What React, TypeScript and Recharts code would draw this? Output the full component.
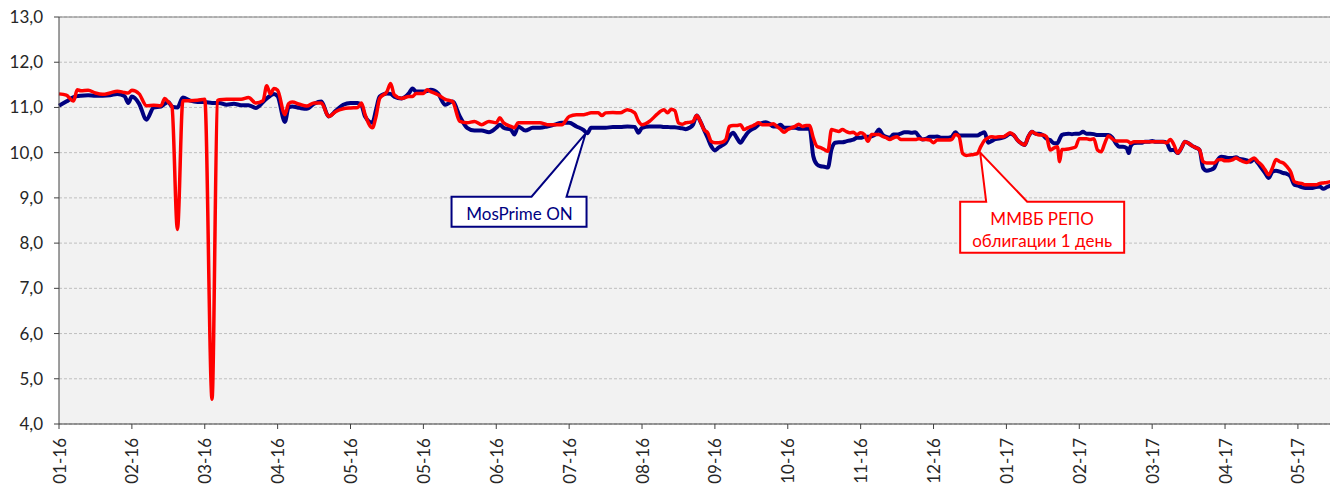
import { LineChart, Line, XAxis, YAxis, CartesianGrid, ReferenceLine, ReferenceDot } from "recharts";

// position along the date axis, 20 steps between two labelled ticks
const dayIdx = [
  0, 2, 4, 5, 6, 8, 10, 12, 14, 16,
  18, 19, 20, 22, 24, 26, 28, 29, 30, 31,
  32.5, 34, 36, 38, 40, 42, 43.5, 44, 46, 48,
  50, 52, 54, 56, 57, 58, 59, 60, 62, 63,
  64, 66, 68, 70, 72, 74, 76,
  78, 80, 82, 83, 84, 86, 87, 88, 90, 91,
  92, 94, 96, 97, 98, 100, 101, 102, 104, 106,
  108, 110, 112, 114, 116, 118, 120, 121, 122, 124,
  125, 126, 128, 130, 132, 134, 136, 138, 140, 142,
  144, 145, 146, 148, 149, 150, 152, 154, 156, 158,
  159, 160, 162, 164,
  165, 166, 167, 168, 169, 170, 171, 172, 173, 174,
  175, 176, 177, 178, 179, 180, 181, 182, 183, 184,
  185, 186, 187, 188, 189, 190, 191, 192, 193, 194,
  195, 196, 197, 198, 199, 200, 201, 202, 203, 204,
  205, 206, 207, 208, 209, 210, 211, 212, 213, 214,
  215, 216, 217, 218, 219, 220, 221, 222, 223, 224,
  225, 226, 227, 228, 229, 230, 231, 232, 233, 234,
  235, 236, 237, 238, 239, 240, 241, 242, 243, 244,
  245, 246, 247, 248, 249, 250, 251, 252, 253, 254,
  255, 256, 257,
  258, 259, 260, 261, 262, 263, 264, 265, 266, 267,
  268, 269, 270, 271, 272, 273, 274, 274.6, 275.2,
  276, 277, 278, 279, 280, 281, 282, 283, 284, 285,
  286, 287, 288, 289, 290, 291, 292, 293, 293.6,
  294, 295, 296, 297, 298, 299, 300, 301, 302, 303,
  304, 305, 306, 307, 308, 309, 310, 311, 312, 313,
  314, 315, 316, 317, 318, 319, 320, 321, 322, 323,
  324, 325, 326, 327, 328, 329, 330, 331, 332, 333,
  334, 335, 336, 337, 338, 339, 340, 341, 342, 343,
  344, 345, 346, 347, 348, 349,
];

const mosPrime = [
  11.04, 11.13, 11.23, 11.25, 11.26, 11.27, 11.26, 11.26, 11.27, 11.3,
  11.25, 11.1, 11.24, 11.08, 10.73, 11.0, 11.02, 11.08, 11.12, 11.02,
  11.0, 11.22, 11.15, 11.12, 11.12, 11.1, 11.1, 11.1, 11.06, 11.08,
  11.05, 11.05, 10.99, 11.12, 11.2, 11.26, 11.3, 11.25, 10.68, 11.0,
  11.02, 10.99, 10.97, 11.08, 11.13, 10.8, 10.93,
  11.06, 11.1, 11.1, 11.05, 10.8, 10.66, 10.95, 11.24, 11.31, 11.3,
  11.24, 11.2, 11.31, 11.42, 11.35, 11.35, 11.36, 11.39, 11.31, 11.06,
  11.13, 10.8, 10.55, 10.49, 10.49, 10.45, 10.55, 10.62, 10.55, 10.51,
  10.4, 10.58, 10.49, 10.55, 10.55, 10.58, 10.62, 10.66, 10.66, 10.58,
  10.5, 10.43, 10.55, 10.55, 10.55, 10.55, 10.57, 10.57, 10.58, 10.57,
  10.44, 10.55, 10.58, 10.58,
  10.58, 10.57, 10.57, 10.56, 10.56, 10.55, 10.54, 10.52, 10.55, 10.62,
  10.82, 10.69, 10.51, 10.33, 10.14, 10.05, 10.11, 10.16, 10.22, 10.36,
  10.44, 10.33, 10.22, 10.33, 10.44, 10.51, 10.55, 10.62, 10.66, 10.67,
  10.64, 10.58, 10.58, 10.62, 10.55, 10.55, 10.55, 10.55, 10.53, 10.53,
  10.53, 10.53, 9.92, 9.74, 9.7, 9.69, 9.67, 10.07, 10.22, 10.23,
  10.23, 10.25, 10.27, 10.29, 10.33, 10.33, 10.35, 10.35, 10.36, 10.4,
  10.51, 10.4, 10.35, 10.33, 10.4, 10.4, 10.42, 10.45, 10.45, 10.44,
  10.45, 10.36, 10.29, 10.31, 10.35, 10.35, 10.36, 10.33, 10.33, 10.33,
  10.35, 10.45, 10.38, 10.38, 10.38, 10.38, 10.38, 10.38, 10.42, 10.45,
  10.22, 10.26, 10.3,
  10.31, 10.33, 10.37, 10.42, 10.39, 10.28, 10.21, 10.17, 10.35, 10.46,
  10.42, 10.42, 10.39, 10.31, 10.28, 10.21, 10.21, 10.3, 10.39,
  10.41, 10.42, 10.41, 10.42, 10.42, 10.46, 10.42, 10.42, 10.41, 10.39,
  10.39, 10.39, 10.39, 10.34, 10.21, 10.13, 10.13, 10.1, 9.99,
  10.13, 10.21, 10.22, 10.22, 10.24, 10.24, 10.26, 10.24, 10.24, 10.24,
  10.22, 10.06, 10.06, 9.99, 10.1, 10.24, 10.21, 10.15, 10.11, 10.06,
  9.66, 9.6, 9.62, 9.66, 9.84, 9.91, 9.9, 9.88, 9.88, 9.9,
  9.86, 9.85, 9.83, 9.8, 9.86, 9.77, 9.66, 9.55, 9.44, 9.58,
  9.6, 9.58, 9.55, 9.53, 9.47, 9.29, 9.27, 9.24, 9.22, 9.22,
  9.22, 9.24, 9.25, 9.2, 9.24, 9.27,
];

const repo = [
  11.3, 11.27, 11.14, 11.39, 11.37, 11.38, 11.32, 11.29, 11.32, 11.36,
  11.33, 11.32, 11.38, 11.3, 11.04, 11.05, 11.04, 11.2, 11.12, 11.02,
  8.3, 11.15, 11.15, 11.16, 11.18, 4.55, 11.15, 11.17, 11.18, 11.18,
  11.18, 11.22, 11.1, 11.15, 11.48, 11.3, 11.42, 11.38, 10.84, 11.08,
  11.12, 11.07, 11.03, 11.1, 11.1, 10.8, 10.91,
  10.97, 10.99, 11.0, 11.1, 10.84, 10.55, 10.8, 11.2, 11.35, 11.53,
  11.28, 11.2, 11.24, 11.24, 11.31, 11.31, 11.39, 11.35, 11.28, 11.18,
  11.13, 10.69, 10.66, 10.69, 10.62, 10.69, 10.66, 10.77, 10.66, 10.58,
  10.55, 10.66, 10.66, 10.66, 10.66, 10.62, 10.62, 10.62, 10.8, 10.84,
  10.84, 10.86, 10.88, 10.88, 10.82, 10.88, 10.89, 10.88, 10.95, 10.88,
  10.7, 10.62, 10.69, 10.84,
  10.91, 10.95, 10.88, 10.96, 10.93, 10.66, 10.63, 10.66, 10.67, 10.69,
  10.82, 10.69, 10.51, 10.44, 10.25, 10.22, 10.22, 10.23, 10.29, 10.58,
  10.6, 10.6, 10.62, 10.51, 10.55, 10.58, 10.62, 10.66, 10.62, 10.62,
  10.62, 10.64, 10.58, 10.52, 10.45, 10.51, 10.55, 10.58, 10.63, 10.58,
  10.6, 10.6, 10.33, 10.14, 10.11, 10.07, 10.03, 10.51, 10.49, 10.47,
  10.51, 10.47, 10.44, 10.45, 10.4, 10.44, 10.4, 10.25, 10.4, 10.4,
  10.4, 10.36, 10.33, 10.29, 10.33, 10.35, 10.29, 10.29, 10.29, 10.29,
  10.29, 10.31, 10.29, 10.29, 10.28, 10.22, 10.28, 10.28, 10.28, 10.28,
  10.29, 10.4, 10.36, 9.98, 9.94, 9.95, 9.96, 9.98, 10.14, 10.27,
  10.33, 10.35, 10.34,
  10.35, 10.35, 10.39, 10.44, 10.39, 10.28, 10.21, 10.17, 10.35, 10.46,
  10.42, 10.39, 10.39, 10.35, 10.06, 10.1, 10.13, 9.8, 10.07,
  10.07, 10.08, 10.1, 10.13, 10.31, 10.31, 10.31, 10.29, 10.31, 10.06,
  10.02, 10.21, 10.37, 10.31, 10.26, 10.26, 10.26, 10.26, 10.24,
  10.21, 10.24, 10.24, 10.24, 10.24, 10.24, 10.24, 10.24, 10.24, 10.24,
  10.22, 10.29, 10.17, 9.99, 10.1, 10.24, 10.21, 10.15, 10.11, 10.06,
  9.8, 9.77, 9.77, 9.77, 9.84, 9.85, 9.82, 9.82, 9.84, 9.88,
  9.84, 9.8, 9.78, 9.84, 9.88, 9.8, 9.73, 9.62, 9.51, 9.66,
  9.85, 9.8, 9.77, 9.69, 9.58, 9.36, 9.33, 9.32, 9.29, 9.29,
  9.29, 9.29, 9.32, 9.33, 9.34, 9.36,
];

const tickLabels = [
  "01-16", "02-16", "03-16", "04-16", "05-16", "05-16", "06-16", "07-16", "08-16",
  "09-16", "10-16", "11-16", "12-16", "01-17", "02-17", "03-17", "04-17", "05-17",
];
const TICK_STEP = 20;
const yTicks = [4, 5, 6, 7, 8, 9, 10, 11, 12, 13];

const data = dayIdx.map((d, i) => ({ d, mosPrime: mosPrime[i], repo: repo[i] }));
const xTicks = tickLabels.map((_, i) => i * TICK_STEP);

const FONT = "Lato, 'Open Sans', 'Noto Sans', sans-serif";
const NAVY = "#000080";
const RED = "#ff0000";

const DateTick = ({ x, y, payload }: any) => {
  const label = tickLabels[Math.round(payload.value / TICK_STEP)];
  return (
    <text
      x={x}
      y={y}
      transform={`rotate(-90 ${x} ${y})`}
      textAnchor="end"
      dominantBaseline="central"
      fontSize={17}
      fontFamily={FONT}
      fill="#262626"
    >
      {label}
    </text>
  );
};

// callout box with a wedge pointing at (cx, cy)
const Callout = ({ cx, cy, color, box, lines, textX, textY, lineGap }: any) => {
  const { left, right, top, bottom, baseL, baseR } = box;
  const path = `M${cx + left},${cy + top} L${cx + baseL},${cy + top} L${cx},${cy} L${cx + baseR},${cy + top} L${cx + right},${cy + top} L${cx + right},${cy + bottom} L${cx + left},${cy + bottom} Z`;
  return (
    <g>
      <path d={path} fill="#ffffff" stroke={color} strokeWidth={2} strokeLinejoin="miter" />
      {lines.map((t: string, i: number) => (
        <text
          key={i}
          x={cx + textX}
          y={cy + textY + i * lineGap}
          textAnchor="middle"
          dominantBaseline="central"
          fontSize={17}
          fontFamily={FONT}
          fill={color}
        >
          {t}
        </text>
      ))}
    </g>
  );
};

export default function App() {
  return (
    <div style={{ marginTop: -8 }}>
      <LineChart width={1330} height={488} data={data} margin={{ top: 17, right: 0, left: 0, bottom: 0 }}>
        <CartesianGrid vertical={false} stroke="#bfbfbf" strokeDasharray="3 2" fill="#f2f2f2" />
        <XAxis
          dataKey="d"
          type="number"
          domain={[0, 351]}
          ticks={xTicks}
          interval={0}
          height={64}
          tickSize={5}
          tickMargin={9}
          tick={<DateTick />}
          axisLine={{ stroke: "#404040" }}
          tickLine={{ stroke: "#404040" }}
        />
        <YAxis
          domain={[4, 13]}
          ticks={yTicks}
          interval={0}
          width={51}
          tickSize={5}
          tickMargin={11}
          tickFormatter={(v: number) => v.toFixed(1).replace(".", ",")}
          tick={{ fontSize: 17, fill: "#262626", fontFamily: FONT }}
          axisLine={{ stroke: "#404040" }}
          tickLine={{ stroke: "#404040" }}
        />
        <ReferenceLine y={13} stroke="#7f7f7f" />
        <Line
          type="monotone"
          dataKey="mosPrime"
          name="MosPrime ON"
          stroke={NAVY}
          strokeWidth={4}
          dot={false}
          isAnimationActive={false}
        />
        <Line
          type="monotone"
          dataKey="repo"
          name="ММВБ РЕПО облигации 1 день"
          stroke={RED}
          strokeWidth={3.5}
          dot={false}
          isAnimationActive={false}
        />
        <ReferenceDot
          x={144.5}
          y={10.42}
          r={0}
          shape={(p: any) => (
            <Callout
              cx={p.cx}
              cy={p.cy}
              color={NAVY}
              box={{ left: -134, right: 1, top: 63, bottom: 93, baseL: -54, baseR: -19 }}
              lines={["MosPrime ON"]}
              textX={-66}
              textY={80}
              lineGap={0}
            />
          )}
        />
        <ReferenceDot
          x={252.8}
          y={10.0}
          r={0}
          shape={(p: any) => (
            <Callout
              cx={p.cx}
              cy={p.cy}
              color={RED}
              box={{ left: -20, right: 144, top: 49, bottom: 100, baseL: 6, baseR: 47 }}
              lines={["ММВБ РЕПО", "облигации 1 день"]}
              textX={62}
              textY={66}
              lineGap={22}
            />
          )}
        />
      </LineChart>
    </div>
  );
}
